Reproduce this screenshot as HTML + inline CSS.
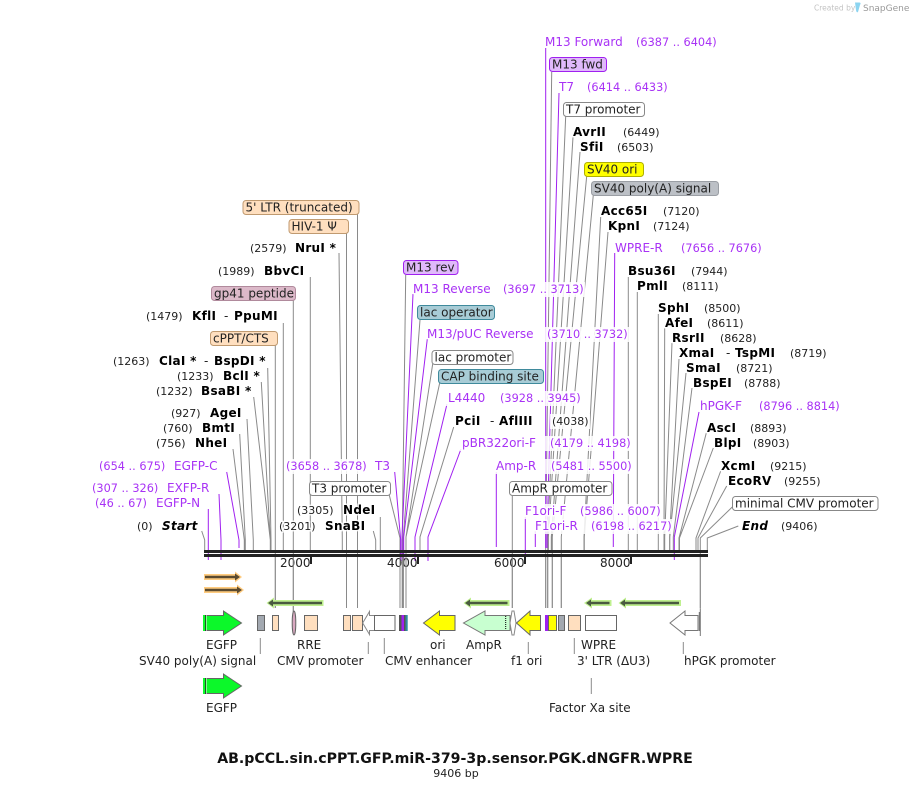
<!DOCTYPE html>
<html><head><meta charset="utf-8"><style>
html,body{margin:0;padding:0;background:#fff}
svg{display:block}
text{font-family:"DejaVu Sans","Liberation Sans",sans-serif;font-size:12px;fill:#222}
.h{paint-order:stroke;stroke:#fff;stroke-width:3px;stroke-opacity:.85;stroke-linejoin:round}
.b{font-weight:bold;fill:#000;letter-spacing:.3px}
.bi{font-weight:bold;font-style:italic;fill:#000;letter-spacing:.3px}
.n{font-size:11px}
.p{fill:#a832f5}
.pn{font-size:11.3px;fill:#a832f5}
.g{fill:none;stroke:#8a8a8a;stroke-width:1}
.v{fill:none;stroke:#a020f0;stroke-width:1}
.box{stroke-width:1}
.f{stroke:#666;stroke-width:1}
</style></head><body>
<svg xmlns="http://www.w3.org/2000/svg" width="912" height="789" viewBox="0 0 912 789">
<rect width="912" height="789" fill="#fff"/>
<!-- gray connectors -->
<path class="g" d="M339 253L342.3 540V550M346.5 233V608M357.5 214V608M310.3 277V550M293.3 300V612M283.3 323V550M275.3 345V608M267.7 368L271 540V550M261.3 382L270.3 540V550M253.7 397L270.3 540V550M247 419L253.3 540V550M239.7 434L245.3 540V550M233 449L244.3 540V550M201.7 531L204.7 540V550M373.3 531L375.7 540V550M380.3 517V550M389 494L400 538V608"/>
<path class="g" d="M405.7 275L402.3 537V608M420 320L403.3 537V608M432.7 364L406 537V608M439.7 383L406 537V608M453.7 427L420 537V550M512.3 496V608"/>
<path class="g" d="M551.7 72L545.7 537V608M565.7 116L547.7 537V608M573 137L548.4 537V550M580 152L551.3 537V550M586.7 176L552.3 537V608M593.3 195L561.3 537V608M600.7 217L584 537V550M608 232L584.3 537V550M628.3 277V550M637.3 292V550M658.3 314V550M664.7 328L664 537V550M672 343L664.7 537V550M679 359L669.6 537V550M686 373L669.8 537V550M692 388L673.3 537V550M706.3 433L679 538V550M713.3 448L679.5 538V550M720.7 471L696 538V550M726.7 486L698 538V550M732.3 507L700.3 538V608M738.3 526L707.3 538V550"/>
<!-- purple connectors -->
<path class="v" d="M226.7 472L239 540V548M219 494L221 540V560M208.3 509V560M394.7 472L400.7 540V561M413 294L402 537V561M427.3 339L403.7 537V561M447 404L415 537V561M461 449L428 537V561M496.3 472V547M525.3 517V564M535.3 531V547M545.7 48V548M559 93L547 537V548M614.7 253L613.3 537V547M699 412L674.3 537V560"/>
<!-- label veils -->
<g fill="#fff" fill-opacity=".85">
<rect x="501" y="282" width="84" height="15"/>
<rect x="545" y="327" width="84" height="15"/>
<rect x="498" y="391" width="84" height="15"/>
<rect x="550" y="414" width="40" height="15"/>
<rect x="460" y="436" width="172" height="15"/>
<rect x="494" y="459" width="139" height="15"/>
<rect x="523" y="504" width="139" height="15"/>
<rect x="533" y="519" width="140" height="15"/>
<rect x="284" y="459" width="82" height="15"/>
<rect x="446" y="391" width="52" height="15"/>
</g>
<!-- backbone -->
<rect x="204" y="550" width="504" height="3" fill="#222"/>
<rect x="204" y="554" width="504" height="3" fill="#222"/>
<rect x="310" y="557" width="2" height="7" fill="#222"/>
<rect x="417" y="557" width="2" height="7" fill="#222"/>
<rect x="524" y="557" width="2" height="7" fill="#222"/>
<rect x="630" y="557" width="2" height="7" fill="#222"/>
<text x="280" y="567">2000</text><text x="387" y="567">4000</text><text x="494" y="567">6000</text><text x="600" y="567">8000</text>
<!-- re-draw vertical connectors below the backbone -->
<path class="g" d="M275.3 557V608M293.3 557V612M346.5 557V608M357.5 557V608M400 557V608M402.3 557V608M403.3 557V608M406 557V608M512.3 557V608M545.7 557V608M547.7 557V608M552.3 557V608M561.3 557V608M700.3 557V609"/>
<!-- primers -->
<g>
<path d="M204 574H235V571.5L242 577L235 582.5V580H204Z" fill="#ffcc80"/>
<path d="M205 577H238" stroke="#5a4a30" stroke-width="2.5"/><path d="M235 573.5L240 577L235 580.5Z" fill="#5a4a30"/>
<path d="M204 587H237V584.5L244 590L237 595.5V593H204Z" fill="#ffcc80"/>
<path d="M205 590H240" stroke="#5a4a30" stroke-width="2.5"/><path d="M237 586.5L242 590L237 593.5Z" fill="#5a4a30"/>
<path d="M323.5 600H274V597.5L266.5 603L274 608.5V606H323.5Z" fill="#bff08f"/>
<path d="M322 603H270" stroke="#4a5a40" stroke-width="2.5"/><path d="M273 599.5L268 603L273 606.5Z" fill="#4a5a40"/>
<path d="M509.5 600H471V597.5L463.5 603L471 608.5V606H509.5Z" fill="#bff08f"/>
<path d="M507.5 603H467" stroke="#4a5a40" stroke-width="2.5"/><path d="M470 599.5L465 603L470 606.5Z" fill="#4a5a40"/>
<path d="M611.5 600H592V597.5L584 603L592 608.5V606H611.5Z" fill="#bff08f"/>
<path d="M609.5 603H588" stroke="#4a5a40" stroke-width="2.5"/><path d="M591 599.5L586 603L591 606.5Z" fill="#4a5a40"/>
<path d="M681 600H626V597.5L618.5 603L626 608.5V606H681Z" fill="#bff08f"/>
<path d="M679 603H622" stroke="#4a5a40" stroke-width="2.5"/><path d="M625 599.5L620 603L625 606.5Z" fill="#4a5a40"/>
</g>
<!-- feature row -->
<path class="f" d="M205 615.5H223.5V611L241.5 623L223.5 635V630.5H205Z" fill="#0cf82a"/>
<rect x="203" y="615" width="2" height="16" fill="#0cf82a"/><path d="M205.5 615.5V631" stroke="#000" stroke-dasharray="1 1"/><path d="M206.5 615.5V631" stroke="#fff" stroke-dasharray="1 1"/>
<path class="f" d="M205 678.5H223.5V674L241.5 686L223.5 698V693.5H205Z" fill="#0cf82a"/>
<rect x="203" y="678" width="2" height="16" fill="#0cf82a"/><path d="M205.5 678.5V694" stroke="#000" stroke-dasharray="1 1"/><path d="M206.5 678.5V694" stroke="#fff" stroke-dasharray="1 1"/>
<rect class="f" x="257.5" y="615.5" width="7" height="15" fill="#a3a9b1"/>
<rect class="f" x="272.5" y="615.5" width="6" height="15" fill="#ffdfbf"/>
<ellipse class="f" cx="294" cy="623" rx="1.8" ry="12" fill="#d8a8c0"/>
<rect class="f" x="304.5" y="615.5" width="13" height="15" fill="#ffdfbf"/>
<rect class="f" x="343.5" y="615.5" width="7" height="15" fill="#ffdfbf"/>
<rect class="f" x="352.5" y="615.5" width="10" height="15" fill="#ffdfbf"/>
<path d="M362.7 623L369.5 611.5V615.5H374.5V630.5H369.5V634.5Z" fill="#fff" stroke="#888" stroke-width="1"/>
<rect class="f" x="374.5" y="615.5" width="20.5" height="15" fill="#fff"/>
<rect x="399" y="615" width="2.5" height="16" fill="#555"/><rect x="401.5" y="615" width="2.5" height="16" fill="#a020f0"/><rect x="404" y="615" width="1.5" height="16" fill="#555"/><rect x="405.5" y="615" width="2.2" height="16" fill="#2f8a9e"/>
<path class="f" d="M455 615.5H439.5V611L423.5 623L439.5 635V630.5H455Z" fill="#ffff00"/>
<path d="M510 615.5H485V611L463.5 623L485 635V630.5H510Z" fill="#c8ffd0" stroke="#777"/>
<path d="M505.7 616V630" stroke="#000" stroke-dasharray="1 1"/>
<path d="M512 611L510 623L512 635L514 635L516 623L514 611Z" fill="#fff" stroke="#888"/>
<path class="f" d="M540.5 615.5H530V611L516.5 623L530 635V630.5H540.5Z" fill="#ffff00"/>
<rect x="545" y="615" width="3.3" height="16" fill="#a020f0"/>
<rect class="f" x="548.5" y="615.5" width="8" height="15" fill="#ffff00"/>
<rect class="f" x="558.5" y="615.5" width="6" height="15" fill="#a3a9b1"/>
<rect class="f" x="568.5" y="615.5" width="12" height="15" fill="#ffdfbf"/>
<rect class="f" x="585.5" y="615.5" width="31" height="15" fill="#fff"/>
<path d="M698 615.5H685V611L670 623L685 635V630.5H698Z" fill="#fff" stroke="#777"/>
<path d="M699.3 612V631M700.3 609V636" stroke="#777" fill="none"/>
<!-- feature labels -->
<path class="g" d="M260.3 638V654M368.3 642V654M384.3 638V654M528.3 642V654M574.3 638V654M683.3 642V654M591.3 678V694"/>
<text x="206" y="649">EGFP</text><text x="139" y="665">SV40 poly(A) signal</text><text x="297" y="649">RRE</text><text x="277" y="665">CMV promoter</text><text x="430" y="649">ori</text><text x="385" y="665">CMV enhancer</text><text x="466" y="649">AmpR</text><text x="511" y="665">f1 ori</text><text x="581" y="649">WPRE</text><text x="577" y="665">3' LTR (ΔU3)</text><text x="684" y="665">hPGK promoter</text><text x="206" y="712">EGFP</text><text x="549" y="712">Factor Xa site</text>
<!-- label boxes -->
<g class="box">
<rect x="243" y="200.5" width="116" height="14" rx="3" fill="#ffdfbf" stroke="#c09a70"/>
<rect x="289" y="219.5" width="59.5" height="14" rx="3" fill="#ffdfbf" stroke="#c09a70"/>
<rect x="211.5" y="286.5" width="84" height="14" rx="3" fill="#dcb9c9" stroke="#b08a9c"/>
<rect x="210.5" y="331.5" width="67" height="14" rx="3" fill="#ffdfbf" stroke="#c09a70"/>
<rect x="309.5" y="481.5" width="81" height="14" rx="3" fill="#fff" stroke="#888"/>
<rect x="403.5" y="260.5" width="54.5" height="14" rx="3" fill="#e0b9fb" stroke="#a020f0"/>
<rect x="417.5" y="305.5" width="77" height="14" rx="3" fill="#a8ccd6" stroke="#3f8a9c"/>
<rect x="432" y="350.5" width="81" height="14" rx="3" fill="#fff" stroke="#888"/>
<rect x="438.5" y="369.5" width="105" height="14" rx="3" fill="#a8ccd6" stroke="#3f8a9c"/>
<rect x="509.5" y="481.5" width="102.5" height="14" rx="3" fill="#fff" stroke="#888"/>
<rect x="549.5" y="57.5" width="57" height="14" rx="3" fill="#e0b9fb" stroke="#a020f0"/>
<rect x="563.5" y="102.5" width="81" height="14" rx="3" fill="#fff" stroke="#888"/>
<rect x="584.5" y="162.5" width="59" height="14" rx="3" fill="#ffff00" stroke="#b0b000"/>
<rect x="591.5" y="181.5" width="127" height="14" rx="3" fill="#bcc0c6" stroke="#9a9ea4"/>
<rect x="732.5" y="496.5" width="145.5" height="14" rx="3" fill="#fff" stroke="#888"/>
</g>
<text x="245.5" y="211.5">5' LTR (truncated)</text><text x="291.5" y="230.5">HIV-1 Ψ</text><text x="214" y="297.5">gp41 peptide</text><text x="213" y="342.5">cPPT/CTS</text><text x="312" y="492.5">T3 promoter</text><text x="406" y="271.5">M13 rev</text><text x="420" y="316.5">lac operator</text><text x="434.5" y="361.5">lac promoter</text><text x="441" y="380.5">CAP binding site</text><text x="512" y="492.5">AmpR promoter</text><text x="552" y="68.5">M13 fwd</text><text x="566" y="113.5">T7 promoter</text><text x="587" y="173.5">SV40 ori</text><text x="594" y="192.5">SV40 poly(A) signal</text><text x="735" y="507.5">minimal CMV promoter</text>
<!-- left labels -->
<g class="h">
<text class="n" x="250" y="252">(2579)</text><text class="b" x="295" y="252">NruI *</text>
<text class="n" x="218" y="275">(1989)</text><text class="b" x="264" y="275">BbvCI</text>
<text class="n" x="146" y="320">(1479)</text><text class="b" x="192" y="320">KflI</text><text x="224" y="320">-</text><text class="b" x="234" y="320">PpuMI</text>
<text class="n" x="113" y="365">(1263)</text><text class="b" x="159" y="365">ClaI *</text><text x="204" y="365">-</text><text class="b" x="214" y="365">BspDI *</text>
<text class="n" x="177" y="380">(1233)</text><text class="b" x="223" y="380">BclI *</text>
<text class="n" x="156" y="395">(1232)</text><text class="b" x="201" y="395">BsaBI *</text>
<text class="n" x="171" y="417">(927)</text><text class="b" x="210" y="417">AgeI</text>
<text class="n" x="163" y="432">(760)</text><text class="b" x="202" y="432">BmtI</text>
<text class="n" x="156" y="447">(756)</text><text class="b" x="195" y="447">NheI</text>
<text class="pn" x="99" y="470">(654 .. 675)</text><text class="p" x="174" y="470">EGFP-C</text>
<text class="pn" x="92" y="492">(307 .. 326)</text><text class="p" x="167" y="492">EXFP-R</text>
<text class="pn" x="95" y="507">(46 .. 67)</text><text class="p" x="156" y="507">EGFP-N</text>
<text class="n" x="137" y="530">(0)</text><text class="bi" x="162" y="530">Start</text>
<text class="pn" x="286" y="470">(3658 .. 3678)</text><text class="p" x="375" y="470">T3</text>
<text class="n" x="297" y="514">(3305)</text><text class="b" x="343" y="514">NdeI</text>
<text class="n" x="279" y="530">(3201)</text><text class="b" x="325" y="530">SnaBI</text>
<!-- middle labels -->
<text class="p" x="413" y="293">M13 Reverse</text><text class="pn" x="503" y="293">(3697 .. 3713)</text>
<text class="p" x="427" y="338">M13/pUC Reverse</text><text class="pn" x="547" y="338">(3710 .. 3732)</text>
<text class="p" x="448" y="402">L4440</text><text class="pn" x="500" y="402">(3928 .. 3945)</text>
<text class="b" x="455" y="425">PciI</text><text x="490" y="425">-</text><text class="b" x="499" y="425">AflIII</text><text class="n" x="552" y="425">(4038)</text>
<text class="p" x="462" y="447">pBR322ori-F</text><text class="pn" x="550" y="447">(4179 .. 4198)</text>
<text class="p" x="496" y="470">Amp-R</text><text class="pn" x="551" y="470">(5481 .. 5500)</text>
<text class="p" x="525" y="515">F1ori-F</text><text class="pn" x="580" y="515">(5986 .. 6007)</text>
<text class="p" x="535" y="530">F1ori-R</text><text class="pn" x="591" y="530">(6198 .. 6217)</text>
<!-- right labels -->
<text class="p" x="545" y="46">M13 Forward</text><text class="pn" x="636" y="46">(6387 .. 6404)</text>
<text class="p" x="559" y="91">T7</text><text class="pn" x="587" y="91">(6414 .. 6433)</text>
<text class="b" x="573" y="136">AvrII</text><text class="n" x="623" y="136">(6449)</text>
<text class="b" x="580" y="151">SfiI</text><text class="n" x="617" y="151">(6503)</text>
<text class="b" x="601" y="215">Acc65I</text><text class="n" x="663" y="215">(7120)</text>
<text class="b" x="608" y="230">KpnI</text><text class="n" x="653" y="230">(7124)</text>
<text class="p" x="615" y="252">WPRE-R</text><text class="pn" x="681" y="252">(7656 .. 7676)</text>
<text class="b" x="628" y="275">Bsu36I</text><text class="n" x="691" y="275">(7944)</text>
<text class="b" x="637" y="290">PmlI</text><text class="n" x="682" y="290">(8111)</text>
<text class="b" x="658" y="312">SphI</text><text class="n" x="704" y="312">(8500)</text>
<text class="b" x="665" y="327">AfeI</text><text class="n" x="707" y="327">(8611)</text>
<text class="b" x="672" y="342">RsrII</text><text class="n" x="720" y="342">(8628)</text>
<text class="b" x="679" y="357">XmaI</text><text x="726" y="357">-</text><text class="b" x="735" y="357">TspMI</text><text class="n" x="790" y="357">(8719)</text>
<text class="b" x="686" y="372">SmaI</text><text class="n" x="736" y="372">(8721)</text>
<text class="b" x="693" y="387">BspEI</text><text class="n" x="744" y="387">(8788)</text>
<text class="p" x="700" y="410">hPGK-F</text><text class="pn" x="759" y="410">(8796 .. 8814)</text>
<text class="b" x="707" y="432">AscI</text><text class="n" x="750" y="432">(8893)</text>
<text class="b" x="714" y="447">BlpI</text><text class="n" x="753" y="447">(8903)</text>
<text class="b" x="721" y="470">XcmI</text><text class="n" x="770" y="470">(9215)</text>
<text class="b" x="728" y="485">EcoRV</text><text class="n" x="784" y="485">(9255)</text>
<text class="bi" x="742" y="530">End</text><text class="n" x="781" y="530">(9406)</text>
</g>
<!-- title -->
<text x="455" y="763" text-anchor="middle" style="font-weight:bold;font-size:14.15px;fill:#111">AB.pCCL.sin.cPPT.GFP.miR-379-3p.sensor.PGK.dNGFR.WPRE</text>
<text x="456" y="777" text-anchor="middle" style="font-size:11px">9406 bp</text>
<!-- watermark -->
<text x="814" y="10.5" style="font-size:7.5px;fill:#c4c4c4">Created by</text>
<path d="M855 2.5H859Q861.5 2.5 860 5L858 12Q856.5 13 856 10Z" fill="#8cd4f0"/>
<text x="863" y="11" style="font-size:9px;fill:#999">SnapGene</text>
</svg>
</body></html>
